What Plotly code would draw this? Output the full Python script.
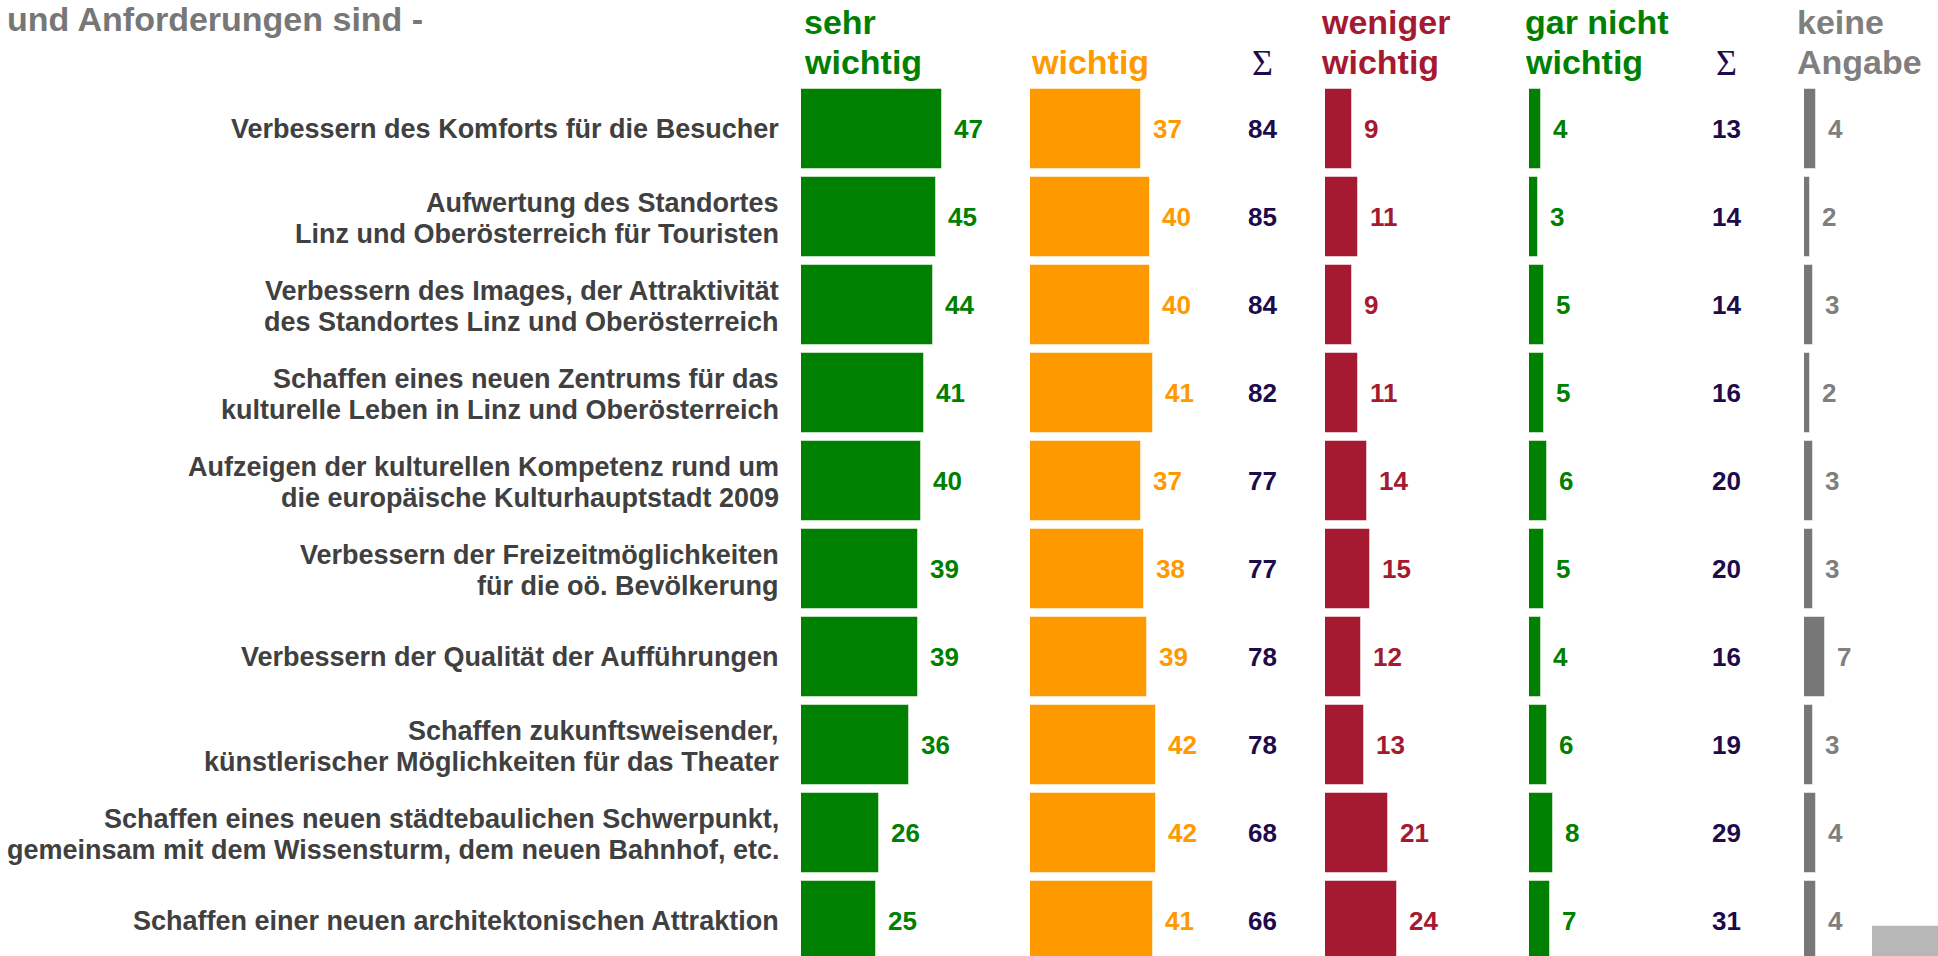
import plotly.graph_objects as go

# ---------------- data ----------------
title_text = "und Anforderungen sind -"
categories = [
    "Verbessern des Komforts für die Besucher",
    "Aufwertung des Standortes<br>Linz und Oberösterreich für Touristen",
    "Verbessern des Images, der Attraktivität<br>des Standortes Linz und Oberösterreich",
    "Schaffen eines neuen Zentrums für das<br>kulturelle Leben in Linz und Oberösterreich",
    "Aufzeigen der kulturellen Kompetenz rund um<br>die europäische Kulturhauptstadt 2009",
    "Verbessern der Freizeitmöglichkeiten<br>für die oö. Bevölkerung",
    "Verbessern der Qualität der Aufführungen",
    "Schaffen zukunftsweisender,<br>künstlerischer Möglichkeiten für das Theater",
    "Schaffen eines neuen städtebaulichen Schwerpunkt,<br>gemeinsam mit dem Wissensturm, dem neuen Bahnhof, etc.",
    "Schaffen einer neuen architektonischen Attraktion",
]
sehr_wichtig = [47, 45, 44, 41, 40, 39, 39, 36, 26, 25]
wichtig = [37, 40, 40, 41, 37, 38, 39, 42, 42, 41]
sum_wichtig = [84, 85, 84, 82, 77, 77, 78, 78, 68, 66]
weniger_wichtig = [9, 11, 9, 11, 14, 15, 12, 13, 21, 24]
gar_nicht_wichtig = [4, 3, 5, 5, 6, 5, 4, 6, 8, 7]
sum_unwichtig = [13, 14, 14, 16, 20, 20, 16, 19, 29, 31]
keine_angabe = [4, 2, 3, 2, 3, 3, 7, 3, 4, 4]

headers = [
    ("sehr", "wichtig"),
    ("", "wichtig"),
    ("weniger", "wichtig"),
    ("gar nicht", "wichtig"),
    ("keine", "Angabe"),
]

# ---------------- styling ----------------
W, H = 1938, 956
GREEN = "#008000"
ORANGE = "#FF9900"
RED = "#A51931"
GRAY_BAR = "#777777"
GRAY_TXT = "#7F7F7F"
SIGMA = "#1E0B4B"
LABEL = "#404040"
FONT = "Liberation Sans, Arial, sans-serif"

PX_PER_UNIT = 3.0
ROW_PITCH = 88.0
ROW0_CENTER = 129.3
BAR_H = 80.0

rows = list(range(len(categories)))
y_top = -ROW0_CENTER / ROW_PITCH
y_bot = (H - ROW0_CENTER) / ROW_PITCH

columns = [
    # (values, color, start px, span px, label color, header x px, header color)
    (sehr_wichtig, GREEN, 801, 200, GREEN, 802, GREEN),
    (wichtig, ORANGE, 1030, 200, ORANGE, 1029, ORANGE),
    (weniger_wichtig, RED, 1325, 190, RED, 1319, RED),
    (gar_nicht_wichtig, GREEN, 1529, 190, GREEN, 1523, GREEN),
    (keine_angabe, GRAY_BAR, 1804, 130, GRAY_TXT, 1795, GRAY_TXT),
]

fig = go.Figure()
annotations = []
layout_axes = {}

for i, (vals, color, start, span, lcol, hx, hcol) in enumerate(columns):
    ax = "x" if i == 0 else f"x{i+1}"
    axkey = "xaxis" if i == 0 else f"xaxis{i+1}"
    fig.add_trace(go.Bar(
        x=vals, y=rows, orientation="h", xaxis=ax, yaxis="y",
        marker=dict(color=color, line=dict(width=1, color="rgba(255,255,255,0.5)")),
        width=BAR_H / ROW_PITCH, showlegend=False, hoverinfo="skip",
    ))
    layout_axes[axkey] = dict(
        domain=[start / W, (start + span) / W], range=[0, span / PX_PER_UNIT],
        visible=False, anchor="y", fixedrange=True,
    )
    for r, v in zip(rows, vals):
        annotations.append(dict(
            x=v, y=r, xref=ax, yref="y", text=f"<b>{v}</b>", showarrow=False,
            xanchor="left", yanchor="middle", xshift=10,
            font=dict(family=FONT, size=26, color=lcol),
        ))
    l1, l2 = headers[i]
    if l1:
        annotations.append(dict(
            x=hx / W, y=1 - 22.2 / H, xref="paper", yref="paper", text=f"<b>{l1}</b>",
            showarrow=False, xanchor="left", yanchor="middle",
            font=dict(family=FONT, size=34, color=hcol),
        ))
    annotations.append(dict(
        x=hx / W, y=1 - 62.2 / H, xref="paper", yref="paper", text=f"<b>{l2}</b>",
        showarrow=False, xanchor="left", yanchor="middle",
        font=dict(family=FONT, size=34, color=hcol),
    ))

# sum columns
for sx, vals in ((1262, sum_wichtig), (1726, sum_unwichtig)):
    annotations.append(dict(
        x=sx / W, y=1 - 62.8 / H, xref="paper", yref="paper", text="Σ",
        showarrow=False, xanchor="center", yanchor="middle",
        font=dict(family="Liberation Serif, Times New Roman, serif", size=36, color=SIGMA),
    ))
    for r, v in zip(rows, vals):
        annotations.append(dict(
            x=sx / W, y=r, xref="paper", yref="y", text=f"<b>{v}</b>", showarrow=False,
            xanchor="center", yanchor="middle",
            font=dict(family=FONT, size=26, color=SIGMA),
        ))

# category labels
for r, cat in zip(rows, categories):
    lines = cat.split("<br>")
    shifts = [0] if len(lines) == 1 else [14.5, -16.5]
    for line, sh in zip(lines, shifts):
        annotations.append(dict(
            x=781 / W, y=r, xref="paper", yref="y", text=f"<b>{line}</b>", showarrow=False,
            xanchor="right", yanchor="middle", yshift=sh,
            font=dict(family=FONT, size=27, color=LABEL),
        ))

# title fragment
annotations.append(dict(
    x=5 / W, y=1 - 19.2 / H, xref="paper", yref="paper", text=f"<b>{title_text}</b>",
    showarrow=False, xanchor="left", yanchor="middle",
    font=dict(family=FONT, size=34, color="#777777"),
))

fig.update_layout(
    width=W, height=H, autosize=False,
    margin=dict(l=0, r=0, t=0, b=0, pad=0),
    paper_bgcolor="white", plot_bgcolor="white",
    barmode="overlay", bargap=0,
    yaxis=dict(domain=[0, 1], range=[y_bot, y_top], visible=False, anchor="x", fixedrange=True),
    annotations=annotations,
    shapes=[dict(type="rect", xref="paper", yref="paper",
                 x0=1872 / W, x1=1, y0=0, y1=1 - 925.7 / H,
                 fillcolor="#B7B7B7", line=dict(width=0), layer="above")],
    showlegend=False,
)
fig.update_layout(**layout_axes)

fig.write_html(
    "out.html",
    config={"displayModeBar": False},
    post_script="document.body.style.margin='0';document.body.style.overflow='hidden';",
)
